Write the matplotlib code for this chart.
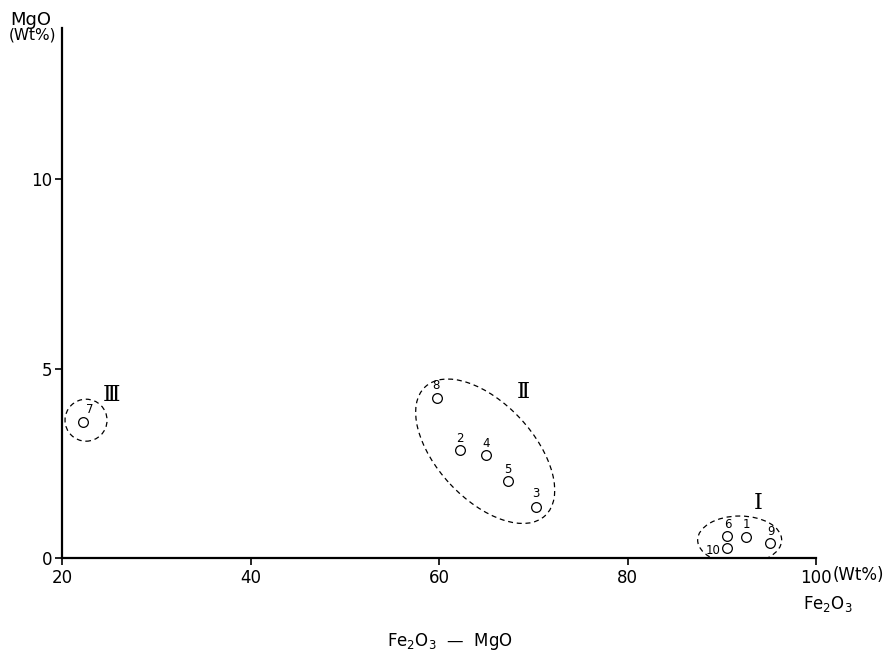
import matplotlib
matplotlib.use("Agg")
import matplotlib.pyplot as plt
from matplotlib.patches import Ellipse
from matplotlib.transforms import ScaledTranslation

# sample values (Fe2O3 wt%, MgO wt%)
sample_ids = ["1", "2", "3", "4", "5", "6", "7", "8", "9", "10"]
fe2o3 = [92.6, 62.2, 70.3, 65.0, 67.3, 90.6, 22.2, 59.8, 95.1, 90.6]
mgo = [0.55, 2.85, 1.35, 2.72, 2.03, 0.58, 3.59, 4.22, 0.40, 0.26]

# label offsets (pixels) for the sample numbers
label_dx = [0, 0, 0, 0, 0, 0, 7, -1, 1, -14]
label_dy = [13, 12, 13, 12, 12, 12, 13, 13, 11, -2]

# groups: name, centre (data), size (px), angle, numeral position (data)
groups = ["Ⅰ", "Ⅱ", "Ⅲ"]
group_cx = [91.9, 64.9, 22.55]
group_cy = [0.475, 2.82, 3.64]
group_w = [84, 176, 42]
group_h = [48, 96, 42]
group_ang = [0, -47, 0]
numeral_x = [93.85, 68.9, 25.3]
numeral_y = [1.45, 4.38, 4.30]

xticks = [20, 40, 60, 80, 100]
xticklabels = ["20", "40", "60", "80", "100"]
yticks = [0, 5, 10]

fig = plt.figure(figsize=(8.91, 6.6), dpi=100)
ax = fig.add_axes([62/891, 102/660, 754/891, 530/660])

ax.plot(fe2o3, mgo, 'o', ms=7, mfc='white', mec='black', mew=0.9, zorder=3)
for i in range(len(sample_ids)):
    ax.annotate(sample_ids[i], (fe2o3[i], mgo[i]), xytext=(label_dx[i], label_dy[i]),
                textcoords='offset pixels', ha='center', va='center', fontsize=8.5)

for i in range(len(groups)):
    tr = fig.dpi_scale_trans + ScaledTranslation(group_cx[i], group_cy[i], ax.transData)
    e = Ellipse((0, 0), group_w[i]/100, group_h[i]/100, angle=group_ang[i],
                fill=False, ec='black', lw=0.9, ls=(0, (4, 3)), transform=tr)
    ax.add_patch(e)
    e.set_clip_box(ax.bbox)
    e.set_clip_on(True)
    ax.text(numeral_x[i], numeral_y[i], groups[i], fontsize=16, family='DejaVu Serif',
            ha='center', va='center')

ax.set_xlim(20, 100)
ax.set_ylim(0, 14)
ax.set_xticks(xticks)
ax.set_xticklabels(xticklabels)
ax.set_yticks(yticks)
ax.tick_params(axis='both', labelsize=12, length=5, width=1.2, direction='out')
ax.tick_params(axis='x', pad=3)
ax.tick_params(axis='y', pad=2)
for s in ['top', 'right']:
    ax.spines[s].set_visible(False)
for s in ['left', 'bottom']:
    ax.spines[s].set_linewidth(1.6)

ax.annotate("(Wt%)", (100, 0), xytext=(17, -17), textcoords='offset pixels',
            ha='left', va='center', fontsize=12, annotation_clip=False)

fig.text(828/891, 1 - 604/660, "Fe$_2$O$_3$", fontsize=12, ha='center', va='center')
fig.text(31/891, 1 - 20/660, "MgO", fontsize=13, ha='center', va='center')
fig.text(32/891, 1 - 35/660, "(Wt%)", fontsize=11, ha='center', va='center')
fig.text(450/891, 1 - 641/660, "Fe$_2$O$_3$  —  MgO", fontsize=12, ha='center', va='center')

fig.savefig("out.png", dpi=100)
